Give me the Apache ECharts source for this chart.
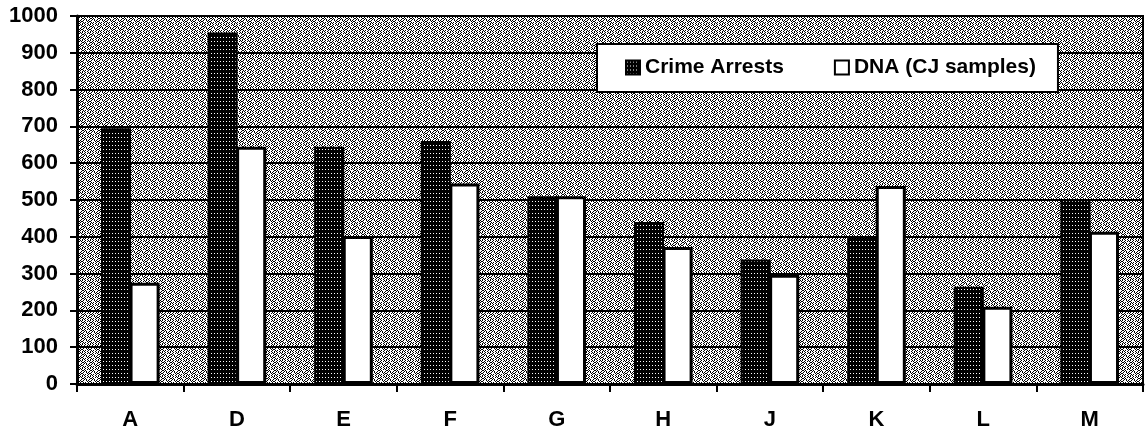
<!DOCTYPE html>
<html>
<head>
<meta charset="utf-8">
<script src="https://cdn.jsdelivr.net/npm/echarts@6/dist/echarts.min.js"></script>
<style>
  body { margin: 0; background: #fff; }
  #chart { width: 1146px; height: 434px; }
</style>
</head>
<body>
<div id="chart"></div>
<script>
const categories = ["A", "D", "E", "F", "G", "H", "J", "K", "L", "M"];
const crimeArrests = [695, 955, 645, 660, 510, 440, 338, 400, 264, 502];
const dnaSamples = [275, 645, 402, 545, 510, 372, 297, 538, 210, 414];
const yTicks = { min: 0, max: 1000, interval: 100 };

// little bitmap fills to mimic the printed halftone
function makePattern(rows, on, off) {
  const c = document.createElement("canvas");
  c.width = rows[0].length;
  c.height = rows.length;
  const ctx = c.getContext("2d");
  rows.forEach((row, y) => {
    for (let x = 0; x < row.length; x++) {
      ctx.fillStyle = row[x] === "1" ? on : off;
      ctx.fillRect(x, y, 1, 1);
    }
  });
  return { image: c, repeat: "repeat" };
}

const bgFill = makePattern([
  "10100100",
  "01001001",
  "00110100",
  "01001010",
  "10010010",
  "01100001",
  "10010100",
  "00101001",
], "#000", "#fff");

const darkFill = makePattern([
  "111",
  "101",
  "111",
  "111",
], "#000", "#fff");

const font = "'Liberation Sans', Arial, sans-serif";

const myChart = echarts.init(document.getElementById("chart"));
myChart.setOption({
  animation: false,
  backgroundColor: "#fff",
  grid: {
    left: 77,
    right: 3,
    top: 16,
    bottom: 50,
    show: true,
    backgroundColor: bgFill,
    borderColor: "#000",
    borderWidth: 2,
  },
  legend: {
    left: 597,
    top: 44,
    padding: [13, 22, 14, 28],
    itemGap: 50,
    itemWidth: 14,
    itemHeight: 14,
    backgroundColor: "#fff",
    borderColor: "#000",
    borderWidth: 2,
    textStyle: { color: "#000", fontSize: 21, fontWeight: "bold", fontFamily: font },
    data: [
      { name: "Crime Arrests", icon: "rect" },
      { name: "DNA (CJ samples)", icon: "rect", itemStyle: { borderWidth: 2 } },
    ],
  },
  xAxis: {
    type: "category",
    data: categories,
    axisLine: { lineStyle: { color: "#000", width: 3 } },
    axisTick: { show: true, length: 8, lineStyle: { color: "#000", width: 2 } },
    axisLabel: { color: "#000", fontSize: 22, fontWeight: "bold", fontFamily: font, margin: 25 },
  },
  yAxis: {
    type: "value",
    min: yTicks.min,
    max: yTicks.max,
    interval: yTicks.interval,
    axisLine: { show: true, lineStyle: { color: "#000", width: 3 } },
    axisTick: { show: true, length: 7, lineStyle: { color: "#000", width: 2 } },
    axisLabel: {
      color: "#000", fontSize: 22, fontWeight: "bold", fontFamily: font, margin: 19,
      formatter: (v) => String(v),
    },
    splitLine: { lineStyle: { color: "#000", width: 2 } },
  },
  series: [
    {
      name: "Crime Arrests",
      type: "bar",
      barGap: "-5%",
      barCategoryGap: "45%",
      itemStyle: { color: darkFill, borderColor: "#000", borderWidth: 2 },
      data: crimeArrests,
    },
    {
      name: "DNA (CJ samples)",
      type: "bar",
      itemStyle: { color: "#fff", borderColor: "#000", borderWidth: 3 },
      data: dnaSamples,
    },
  ],
});
</script>
</body>
</html>
